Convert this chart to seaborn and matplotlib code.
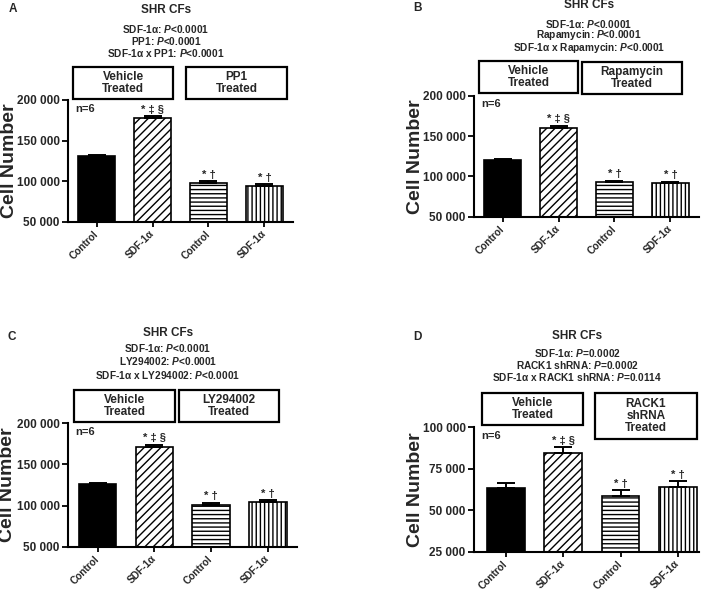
import matplotlib
matplotlib.use("Agg")
import matplotlib.pyplot as plt
import seaborn as sns
import pandas as pd
import numpy as np
from matplotlib.patches import Rectangle
from matplotlib.ticker import FuncFormatter

sns.set_theme(style="ticks")
plt.rcParams['font.family'] = ['Liberation Sans', 'DejaVu Sans']
plt.rcParams['font.weight'] = 'bold'
plt.rcParams['mathtext.fontset'] = 'custom'
plt.rcParams['mathtext.it'] = 'Liberation Sans:italic:bold'
plt.rcParams['mathtext.rm'] = 'Liberation Sans:bold'
plt.rcParams['mathtext.default'] = 'it'
plt.rcParams['hatch.linewidth'] = 1.0
plt.rcParams['hatch.color'] = 'black'

# ---------------- data ----------------
categories = ["Control", "SDF-1α", "Control", "SDF-1α"]
stars = ["", "* ‡ §", "* †", "* †"]
title = "SHR CFs"

a_values = [130600, 177400, 98100, 93600]
a_sem = [1600, 2500, 2000, 2500]
a_stats = ["SDF-1α: $P$<0.0001", "PP1: $P$<0.0001", "SDF-1α x PP1: $P$<0.0001"]
a_boxes = ["Vehicle\nTreated", "PP1\nTreated"]

b_values = [120300, 160300, 92600, 91400]
b_sem = [1600, 2500, 2000, 2000]
b_stats = ["SDF-1α: $P$<0.0001", "Rapamycin: $P$<0.0001", "SDF-1α x Rapamycin: $P$<0.0001"]
b_boxes = ["Vehicle\nTreated", "Rapamycin\nTreated"]

c_values = [125900, 170800, 101100, 104000]
c_sem = [2000, 3200, 2400, 2800]
c_stats = ["SDF-1α: $P$<0.0001", "LY294002: $P$<0.0001", "SDF-1α x LY294002: $P$<0.0001"]
c_boxes = ["Vehicle\nTreated", "LY294002\nTreated"]

d_values = [63600, 84700, 58800, 64200]
d_sem = [2800, 3200, 3200, 3400]
d_stats = ["SDF-1α: $P$=0.0002", "RACK1 shRNA: $P$=0.0002", "SDF-1α x RACK1 shRNA: $P$=0.0114"]
d_boxes = ["Vehicle\nTreated", "RACK1\nshRNA\nTreated"]

# ---------------- figure ----------------
W, H = 709, 590
fig = plt.figure(figsize=(W / 100, H / 100), dpi=100)


def fx(x):
    return x / W


def fy(y):
    return 1 - y / H


def fmt(v, pos):
    return f"{int(round(v)):,}".replace(",", " ")


hatches = [None, "////", "----", "||||"]
faces = ["black", "white", "white", "white"]


def panel(letter, values, sems, stats, boxes, ax_px, xlim, ylim, yticks,
          letter_xy, title_xy, stats_y, box_px, ylabel_x):
    l, r, t, b = ax_px
    ax = fig.add_axes([fx(l), fy(b), (r - l) / W, (b - t) / H])
    df = pd.DataFrame({"key": [f"g{i}" for i in range(len(values))],
                       "value": values})
    sns.barplot(data=df, x="key", y="value", ax=ax, width=0.66,
                color="white", edgecolor="black", linewidth=1.2,
                errorbar=None, saturation=1)
    for p, h, fc in zip(ax.patches, hatches, faces):
        p.set_facecolor(fc)
        p.set_edgecolor("black")
        if h:
            p.set_hatch(h)
    xs = np.arange(len(values))
    ax.errorbar(xs, values, yerr=[np.zeros(len(values)), sems], fmt="none",
                ecolor="black", elinewidth=1.4, capsize=6.5, capthick=1.4,
                zorder=5)
    for x, v, s, st in zip(xs, values, sems, stars):
        if st:
            ax.annotate(st, (x, v + s), xytext=(0, 1), textcoords="offset points",
                        ha="center", va="bottom", fontsize=8, fontweight="bold")
    ax.text(0.03, 0.97, "n=6", transform=ax.transAxes, ha="left", va="top",
            fontsize=8, fontweight="bold")
    ax.set_xlim(*xlim)
    ax.set_ylim(*ylim)
    ax.set_yticks(yticks)
    ax.yaxis.set_major_formatter(FuncFormatter(fmt))
    ax.set_xticks(xs)
    ax.set_xticklabels(categories, rotation=45, ha="right", va="center",
                       rotation_mode="anchor", fontsize=7.3, fontweight="bold")
    ax.set_xlabel("")
    ax.set_ylabel("")
    for side in ["top", "right"]:
        ax.spines[side].set_visible(False)
    for side in ["left", "bottom"]:
        ax.spines[side].set_linewidth(1.5)
        ax.spines[side].set_color("black")
    ax.tick_params(axis="both", direction="out", length=4, width=1.3,
                   color="black", pad=2)
    ax.tick_params(axis="x", length=3.5, pad=4)
    ax.tick_params(axis="y", labelsize=8.5)
    for lab in ax.get_yticklabels():
        lab.set_fontweight("bold")
    ax.set_facecolor("none")
    ax.grid(False)

    fig.text(fx(ylabel_x), fy((t + b) / 2), "Cell Number", rotation=90,
             ha="center", va="center", fontsize=14, fontweight="bold")
    fig.text(fx(letter_xy[0]), fy(letter_xy[1]), letter, ha="left",
             va="center", fontsize=8.5, fontweight="bold")
    fig.text(fx(title_xy[0]), fy(title_xy[1]), title, ha="center",
             va="center", fontsize=8.5, fontweight="bold")
    for sy, s in zip(stats_y, stats):
        fig.text(fx(title_xy[0]), fy(sy), s, ha="center", va="center",
                 fontsize=7.3, fontweight="bold")
    for (x0, x1, y0, y1), txt in zip(box_px, boxes):
        rect = Rectangle((fx(x0), fy(y1)), (x1 - x0) / W, (y1 - y0) / H,
                         transform=fig.transFigure, fill=False,
                         edgecolor="black", linewidth=1.6)
        fig.add_artist(rect)
        fig.text(fx((x0 + x1) / 2), fy((y0 + y1) / 2), txt, ha="center",
                 va="center", fontsize=8.5, fontweight="bold",
                 linespacing=1.05)
    return ax


panel("A", a_values, a_sem, a_stats, a_boxes,
      (68, 293, 100, 221.7), (-0.51, 3.51), (50000, 200000),
      [50000, 100000, 150000, 200000],
      (9, 9), (166, 10), (29, 41, 53),
      [(73, 173, 67, 99), (186, 287, 67, 99)], 10)

panel("B", b_values, b_sem, b_stats, b_boxes,
      (474, 699, 95.7, 216.7), (-0.51, 3.51), (50000, 200000),
      [50000, 100000, 150000, 200000],
      (413, 8), (589, 5), (24, 35.5, 48),
      [(479, 578, 61, 93), (582, 682, 62, 94)], 416)

panel("C", c_values, c_sem, c_stats, c_boxes,
      (68, 297, 423.3, 546.7), (-0.52, 3.51), (50000, 200000),
      [50000, 100000, 150000, 200000],
      (8, 337), (168, 333), (348, 361, 375),
      [(74, 175, 390, 422), (179, 279, 390, 422)], 8)

panel("D", d_values, d_sem, d_stats, d_boxes,
      (474, 699, 427.3, 551.7), (-0.56, 3.37), (25000, 100000),
      [25000, 50000, 75000, 100000],
      (413, 337), (577, 336), (353, 365, 377),
      [(482, 583, 393, 425), (595, 697, 393, 439)], 416)

fig.savefig("out.png", dpi=100, facecolor="white")
